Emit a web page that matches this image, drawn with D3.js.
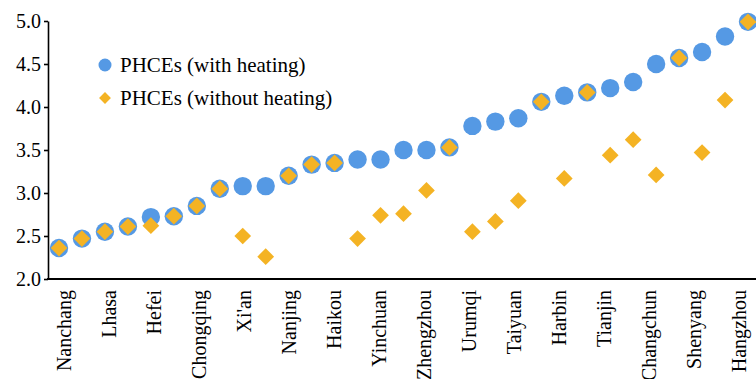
<!DOCTYPE html>
<html><head><meta charset="utf-8">
<script src="https://cdn.jsdelivr.net/npm/d3@7"></script>
<style>body{margin:0;background:#fff}</style>
</head><body><svg id="c" width="756" height="379"></svg>
<script>
const cityLabels = ["Nanchang","Lhasa","Hefei","Chongqing","Xi'an","Nanjing","Haikou","Yinchuan",
  "Zhengzhou","Urumqi","Taiyuan","Harbin","Tianjin","Changchun","Shenyang","Hangzhou"];
const withHeating = [2.36,2.47,2.55,2.61,2.72,2.73,2.85,3.05,3.08,3.08,3.20,3.33,3.35,3.39,3.39,3.50,
  3.50,3.53,3.78,3.83,3.87,4.06,4.13,4.17,4.22,4.29,4.50,4.57,4.64,4.82,4.99];
const withoutHeating = [2.36,2.47,2.55,2.61,2.62,2.73,2.85,3.05,2.50,2.26,3.20,3.33,3.35,2.47,2.74,2.76,
  3.03,3.53,2.55,2.67,2.91,4.06,3.17,4.17,3.44,3.62,3.21,4.57,3.47,4.08,4.99];
const yTicks = [2.0,2.5,3.0,3.5,4.0,4.5,5.0];
const seriesNames = ["PHCEs (with heating)","PHCEs (without heating)"];
const blue = "#5599e4", orange = "#f4b324";
const FONT = "'Liberation Serif', 'Times New Roman', Times, 'DejaVu Serif', serif";

const svg = d3.select("#c");
const x = d3.scaleLinear().domain([0, withHeating.length - 1]).range([59, 748]);
const xl = d3.scalePoint().domain(cityLabels).range([63, 738]);
const y = d3.scaleLinear().domain([2, 5]).range([279, 21]);
const FS = 20;

// y axis
const ya = svg.append("g").attr("transform","translate(48,0)")
  .call(d3.axisLeft(y).tickValues(yTicks).tickFormat(d3.format(".1f")).tickSize(4).tickSizeOuter(0));
ya.style("font-family", FONT);
ya.select(".domain").attr("stroke","#000").attr("stroke-width",1.6);
ya.selectAll(".tick line").attr("stroke","#000").attr("stroke-width",1.6);
ya.selectAll(".tick text").attr("font-size",FS).attr("fill","#000").attr("x",-7)
  .style("font-family", FONT);

// x axis
svg.append("line").attr("x1",47).attr("x2",756).attr("y1",y(2)).attr("y2",y(2))
  .attr("stroke","#000").attr("stroke-width",2);
const xa = svg.append("g").attr("transform",`translate(0,${y(2)})`)
  .call(d3.axisBottom(xl).tickSize(0));
xa.style("font-family", FONT);
xa.select(".domain").remove();
xa.selectAll(".tick text").attr("font-size",FS).attr("fill","#000")
  .style("font-family", FONT)
  .attr("transform","rotate(-90)").attr("text-anchor","end")
  .attr("x",-11).attr("y",0).attr("dy","0.35em");

// points
svg.append("g").selectAll("circle").data(withHeating).join("circle")
  .attr("cx",(d,i)=>x(i)).attr("cy",d=>y(d)).attr("r",9.2).attr("fill",blue);
const sq = d3.symbol(d3.symbolSquare, 140)();
svg.append("g").selectAll("path").data(withoutHeating).join("path")
  .attr("d",sq).attr("fill",orange)
  .attr("transform",(d,i)=>`translate(${x(i)},${y(d)}) rotate(45)`);

// legend
const lg = svg.append("g");
lg.append("circle").attr("cx",105).attr("cy",65).attr("r",6.5).attr("fill",blue);
lg.append("path").attr("d",d3.symbol(d3.symbolSquare,70)()).attr("fill",orange)
  .attr("transform","translate(105,98) rotate(45)");
lg.selectAll("text").data(seriesNames).join("text")
  .attr("x",120).attr("y",(d,i)=>i?98:65).attr("dy","0.35em").attr("font-size",21).attr("fill","#000")
  .style("font-family", FONT)
  .text(d=>d);
</script></body></html>
